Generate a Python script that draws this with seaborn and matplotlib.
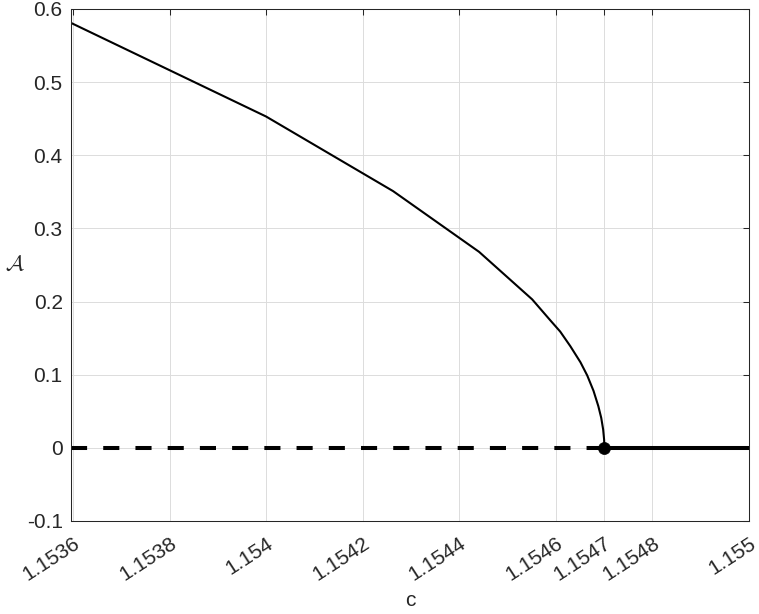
import numpy as np
import pandas as pd
import matplotlib
matplotlib.use("Agg")
import matplotlib.pyplot as plt
import matplotlib.transforms as mtransforms
import seaborn as sns

# ---- data ----
curve_c = [1.153596, 1.154000, 1.154263, 1.154441, 1.154551, 1.154589,
           1.154609, 1.154630, 1.154651, 1.154665, 1.154678, 1.154688,
           1.154694, 1.154698, 1.154700, 1.1547005]
curve_A = [0.581, 0.453, 0.351, 0.268, 0.203, 0.174,
           0.159, 0.139, 0.117, 0.099, 0.078, 0.057,
           0.041, 0.025, 0.011, 0.0]
unstable_c = [1.153596, 1.1547005]
unstable_A = [0.0, 0.0]
stable_c = [1.1547005, 1.1550]
stable_A = [0.0, 0.0]
bif_c = [1.1547005]
bif_A = [0.0]

xticks = [1.1536, 1.1538, 1.1540, 1.1542, 1.1544, 1.1546, 1.1547, 1.1548, 1.1550]
xticklabels = ['1.1536', '1.1538', '1.154', '1.1542', '1.1544', '1.1546', '1.1547', '1.1548', '1.155']
yticks = [-0.1, 0.0, 0.1, 0.2, 0.3, 0.4, 0.5, 0.6]
yticklabels = ['-0.1', '0', '0.1', '0.2', '0.3', '0.4', '0.5', '0.6']

sns.set_style("whitegrid")
plt.rcParams['font.family'] = ['Liberation Sans', 'DejaVu Sans']
plt.rcParams['mathtext.fontset'] = 'cm'

fig = plt.figure(figsize=(7.59, 6.14), dpi=100)
ax = fig.add_axes([71/759, 1 - 521/614, (749 - 71)/759, (521 - 9)/614])

dark = '#262626'

sns.lineplot(x=curve_c, y=curve_A, ax=ax, color='black', linewidth=1.5,
             sort=False, estimator=None)
sns.lineplot(x=unstable_c, y=unstable_A, ax=ax, color='black', linewidth=2.9,
             sort=False, estimator=None, linestyle=(0, (4, 4)))
sns.lineplot(x=stable_c, y=stable_A, ax=ax, color='black', linewidth=2.9,
             sort=False, estimator=None)
sns.scatterplot(x=bif_c, y=bif_A, ax=ax, color='black', s=75, zorder=5,
                edgecolor='black', linewidth=0.5)

ax.set_xlim(1.153596, 1.1550)
ax.set_ylim(-0.1, 0.6)
ax.set_xticks(xticks)
ax.set_xticklabels(xticklabels, rotation=33, ha='right', va='top',
                   rotation_mode='anchor')
ax.set_yticks(yticks)
ax.set_yticklabels(yticklabels)

ax.grid(True, color='#dcdcdc', linewidth=0.7)
ax.set_axisbelow(True)
ax.tick_params(axis='both', which='both', direction='in', length=4.5,
               width=0.75, colors=dark, labelsize=15, top=True, right=True,
               labelcolor=dark)
ax.tick_params(axis='x', pad=0)
ax.tick_params(axis='y', pad=6)

offset = mtransforms.ScaledTranslation(0.0, -12.5/100, fig.dpi_scale_trans)
for lab in ax.get_xticklabels():
    lab.set_transform(lab.get_transform() + offset)

for s in ax.spines.values():
    s.set_visible(True)
    s.set_color(dark)
    s.set_linewidth(0.75)

ax.set_xlabel('c', fontsize=15, color=dark, va='baseline')
ax.xaxis.set_label_coords(0.5, (521 - 606) / 512)
ax.set_ylabel(r'$\mathcal{A}$', fontsize=16, color=dark, rotation=0,
              ha='center', va='center')
ax.yaxis.set_label_coords((15 - 71) / 678, 0.5)

fig.savefig('out.png', dpi=100)
